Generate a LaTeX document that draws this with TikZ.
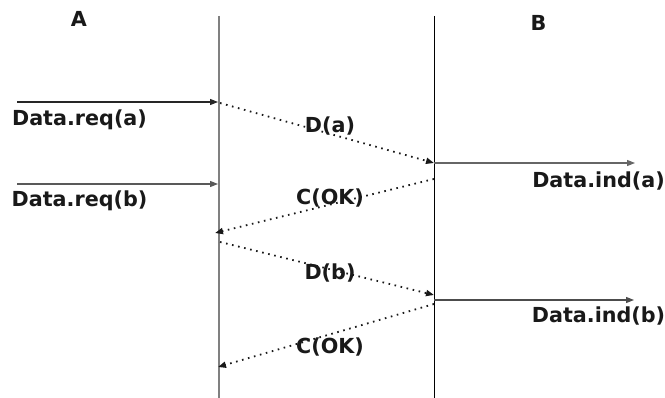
\documentclass[tikz,border=0pt]{standalone}
\usepackage{fontspec}
\setmainfont{DejaVu Sans}
\usetikzlibrary{arrows.meta}
\begin{document}
\begin{tikzpicture}[x=1pt,y=-1pt,
  lbl/.style={font=\bfseries\fontsize{20.7}{24}\selectfont, text=black!90, inner sep=0pt},
  life/.style={line width=0.9pt},
  msg/.style={line width=1.1pt, black!85, -{Triangle[length=8pt,width=6pt]}},
  pdu/.style={line width=1.8pt, black!90, dash pattern=on 1.6pt off 4.6pt, -{Triangle[length=8pt,width=6pt]}}]
\useasboundingbox (0,0) rectangle (665,398);
% lifelines
\coordinate (At) at (219,16); \coordinate (Ab) at (219,398);
\coordinate (Bt) at (434,16); \coordinate (Bb) at (434,398);
\draw[life, line width=1.1pt, black!50] (At) -- (Ab);
\draw[life, black] (Bt) -- (Bb);
% headings
\node[lbl, anchor=base] (A) at (79,27) {A};
\node[lbl, anchor=base] (B) at (538.5,31) {B};
% endpoints
\coordinate (ra0) at (17,102);  \coordinate (ra1) at (218,102);
\coordinate (rb0) at (17,184);  \coordinate (rb1) at (218,184);
\coordinate (da0) at (220,103); \coordinate (da1) at (434,163);
\coordinate (ia0) at (434,163); \coordinate (ia1) at (635,163);
\coordinate (c10) at (434,179); \coordinate (c11) at (215,233);
\coordinate (db0) at (220,242); \coordinate (db1) at (434,295);
\coordinate (ib0) at (434,300); \coordinate (ib1) at (634,300);
\coordinate (c20) at (434,304); \coordinate (c21) at (218,367);
% messages
\draw[msg] (ra0) -- (ra1);
\draw[msg, black!65] (rb0) -- (rb1);
\draw[msg, black!60] (ia0) -- (ia1);
\draw[msg, black!70] (ib0) -- (ib1);
\draw[pdu] (da0) -- (da1);
\draw[pdu] (c10) -- (c11);
\draw[pdu] (db0) -- (db1);
\draw[pdu] (c20) -- (c21);
% labels
\node[lbl] (lra) at (79.5,119.5) {Data.req(a)};
\node[lbl] (lrb) at (79.5,201) {Data.req(b)};
\node[lbl] (lia) at (598.5,181) {Data.ind(a)};
\node[lbl] (lib) at (598.5,316.5) {Data.ind(b)};
\node[lbl] (lda) at (330,126) {D(a)};
\node[lbl] (lc1) at (330,198) {C(OK)};
\node[lbl] (ldb) at (330,273) {D(b)};
\node[lbl] (lc2) at (330,347) {C(OK)};
\end{tikzpicture}
\end{document}
